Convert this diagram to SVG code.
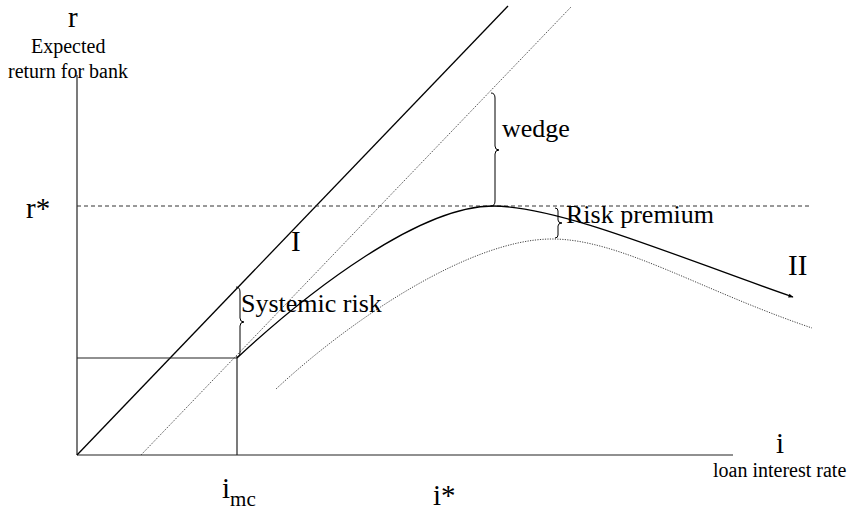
<svg xmlns="http://www.w3.org/2000/svg" width="856" height="513" viewBox="0 0 856 513">
<style>
text{font-family:"Liberation Serif","Times New Roman",serif;fill:#000}
.ax{stroke:#222;stroke-width:1.2;fill:none}
.solid{stroke:#000;stroke-width:1.3;fill:none}
.dot{stroke:#444;stroke-width:1;stroke-dasharray:1.2 1.3;fill:none}
.dash{stroke:#333;stroke-width:1;stroke-dasharray:4 3;fill:none}
.brace{stroke:#000;stroke-width:1;fill:none}
.big{font-size:29px}
.mid{font-size:26px}
.small{font-size:20px}
</style>
<defs>
<marker id="ah" viewBox="0 0 10 10" refX="9" refY="5" markerWidth="6" markerHeight="5" orient="auto" markerUnits="userSpaceOnUse">
<path d="M0,1 L10,5 L0,9 z" fill="#000"/>
</marker>
</defs>
<rect width="856" height="513" fill="#fff"/>
<g id="axes">
<line class="ax" x1="77" y1="75" x2="77" y2="455"/>
<line class="ax" x1="77" y1="455" x2="733" y2="455"/>
</g>
<g id="connectors">
<line class="solid" x1="77" y1="455" x2="508" y2="6"/>
<line class="dot" x1="141" y1="455" x2="571" y2="7"/>
<line class="dash" x1="77" y1="206" x2="812" y2="206"/>
<line class="ax" x1="77" y1="358" x2="237" y2="358"/>
<line class="ax" x1="237" y1="358" x2="237" y2="455"/>
<path class="solid" d="M237,358 C310,290 420,206 493,206 C560,206 680,258 793,297" marker-end="url(#ah)"/>
<path class="dot" d="M276,389 C350,320 470,239 552,239 C620,239 700,290 812,328"/>
</g>
<g id="braces">
<path class="brace" d="M236,287 Q240,287 240,292 L240,318 Q240,322 244,322 Q240,322 240,326 L240,352 Q240,357 236,357"/>
<path class="brace" d="M491,93 Q495,93 495,98 L495,146 Q495,150 499,150 Q495,150 495,154 L495,201 Q495,206 491,206"/>
<path class="brace" d="M555,208 Q558,208 558,211 L558,220 Q558,223 562,223 Q558,223 558,226 L558,235 Q558,238 555,238"/>
</g>
<g id="labels">
<text x="68" y="27" font-size="29">r</text>
<text x="31" y="53" class="small">Expected</text>
<text x="8" y="78" class="small">return for bank</text>
<text x="26" y="218" class="big">r*</text>
<text x="291" y="251" class="big">I</text>
<text x="788" y="275" class="big">II</text>
<text x="241" y="312" class="mid">Systemic risk</text>
<text x="502" y="137" class="mid">wedge</text>
<text x="566" y="223" class="mid">Risk premium</text>
<text x="776" y="453" class="big">i</text>
<text x="713" y="477" class="small">loan interest rate</text>
<text x="222" y="498" class="big">i<tspan font-size="21" dy="8">mc</tspan></text>
<text x="433" y="505" class="big">i*</text>
</g>
</svg>
